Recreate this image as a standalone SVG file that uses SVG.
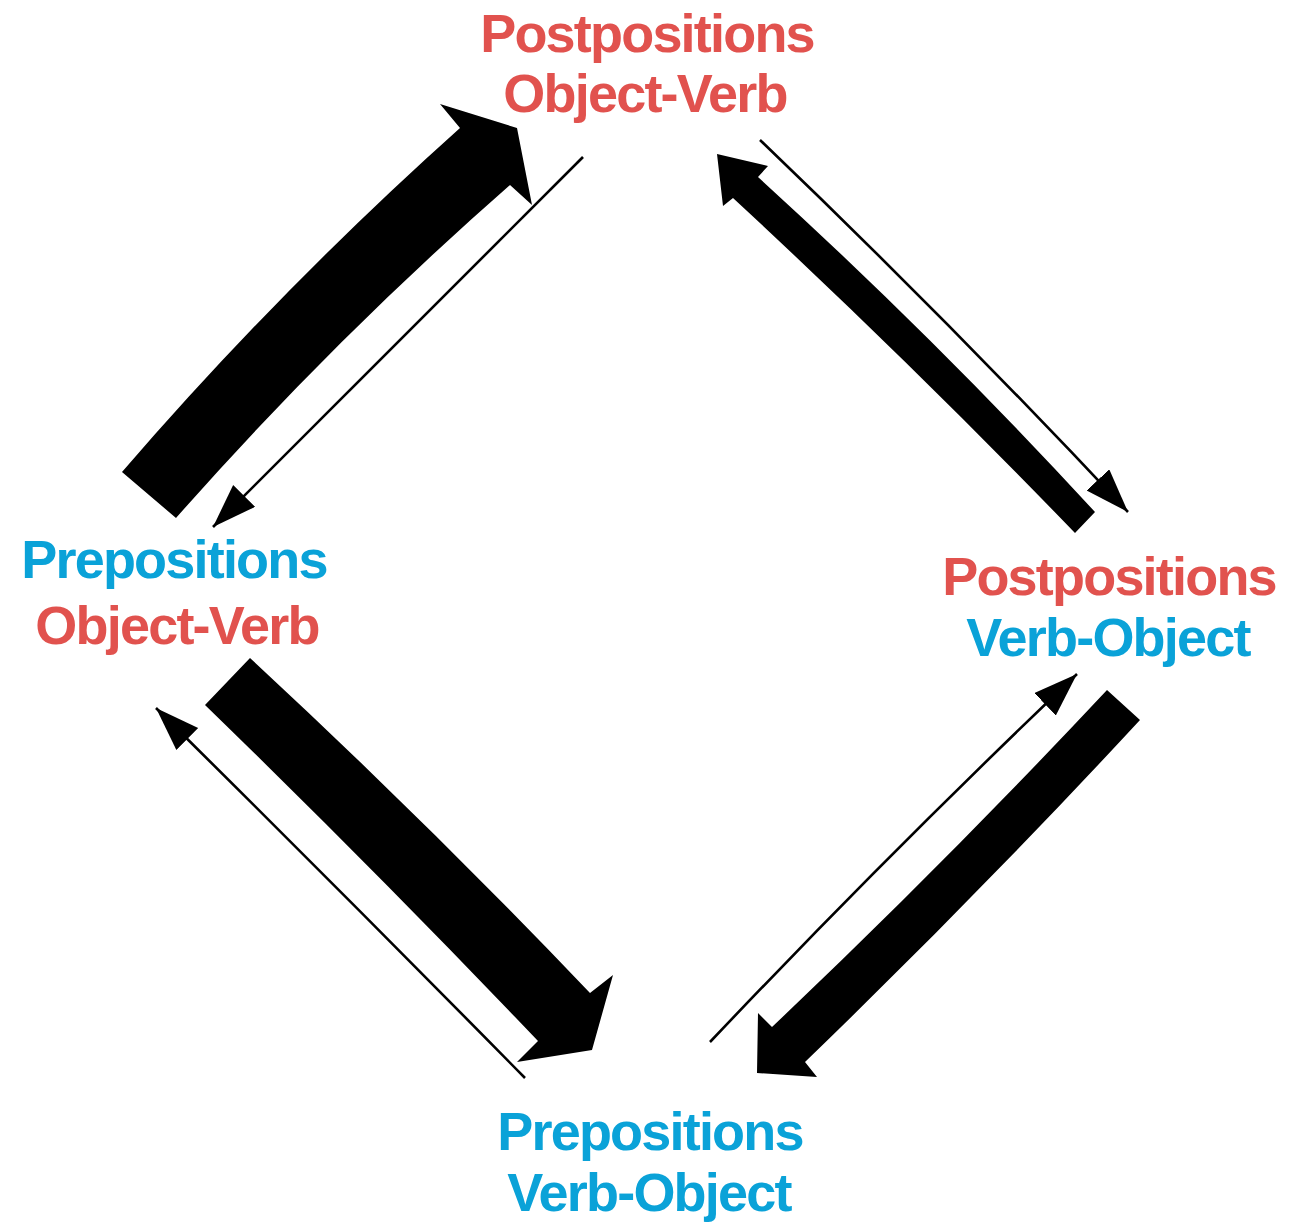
<svg xmlns="http://www.w3.org/2000/svg" width="1312" height="1227" viewBox="0 0 1312 1227">
<defs>
<style>
.lbl{font-family:"Liberation Sans",Arial,Helvetica,sans-serif;font-weight:bold;font-size:54px;letter-spacing:-1.8px;text-anchor:middle}
.red{fill:#E1524E}
.blue{fill:#0AA2D8}
.big{fill:#000;stroke:none}
.thin{fill:none;stroke:#000;stroke-width:2.6}
</style>
<marker id="ah" markerUnits="userSpaceOnUse" markerWidth="46" markerHeight="32" refX="44" refY="15.5" orient="auto">
<path d="M0,0 L44,15.5 L0,31 Z" fill="#000"/>
</marker>
</defs>
<rect width="1312" height="1227" fill="#fff"/>
<g id="node-post-ov">
<text class="lbl red" x="647" y="52">Postpositions</text>
<text class="lbl red" x="645" y="112">Object-Verb</text>
</g>
<g id="node-prep-ov">
<text class="lbl blue" x="174" y="578">Prepositions</text>
<text class="lbl red" x="177" y="644">Object-Verb</text>
</g>
<g id="node-post-vo">
<text class="lbl red" x="1109" y="595">Postpositions</text>
<text class="lbl blue" x="1108" y="656">Verb-Object</text>
</g>
<g id="node-prep-vo">
<text class="lbl blue" x="650" y="1150">Prepositions</text>
<text class="lbl blue" x="649" y="1211">Verb-Object</text>
</g>
<g id="connectors">
<path class="big" d="M122,472 Q280,289 460,128 L440,104 L517,128 L532,205 L510,185 Q332,341 176,518 Z"/>
<path class="thin" d="M583,157 Q400,340 213,527" marker-end="url(#ah)"/>
<path class="big" d="M1095,512 Q935,338 758,177 L768,166 L717,154 L723,206 L733,198 Q910,362 1075,533 Z"/>
<path class="thin" d="M760,140 Q950,322 1128,512" marker-end="url(#ah)"/>
<path class="big" d="M1107,690 Q945,863 772,1027 L758,1013 L757,1073 L817,1077 L805,1062 Q978,895 1140,720 Z"/>
<path class="thin" d="M710,1042 Q890,852 1077,674" marker-end="url(#ah)"/>
<path class="big" d="M250,658 Q425,820 590,993 L613,975 L592,1050 L517,1062 L538,1041 Q375,870 205,705 Z"/>
<path class="thin" d="M525,1078 Q340,890 156,708" marker-end="url(#ah)"/>
</g>
</svg>
